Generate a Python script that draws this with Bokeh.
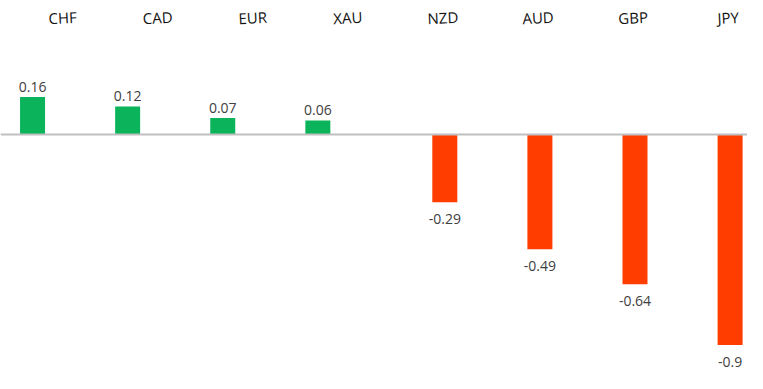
from bokeh.plotting import figure
from bokeh.models import ColumnDataSource, Span, Range1d
from bokeh.core.properties import value
from bokeh.embed import file_html
from bokeh.resources import INLINE

currencies = ["CHF", "CAD", "EUR", "XAU", "NZD", "AUD", "GBP", "JPY"]
changes = [0.16, 0.12, 0.07, 0.06, -0.29, -0.49, -0.64, -0.9]
value_labels = ["0.16", "0.12", "0.07", "0.06", "-0.29", "-0.49", "-0.64", "-0.9"]

GREEN = "#0BB45A"
RED = "#FF3D00"

idx = list(range(len(currencies)))
pos_off = -0.315
neg_off = 0.02
bar_x = [i + (pos_off if v > 0 else neg_off) for i, v in zip(idx, changes)]
colors = [GREEN if v > 0 else RED for v in changes]

bars = ColumnDataSource(dict(x=bar_x, top=changes, color=colors))
pos_src = ColumnDataSource(dict(
    x=[x for x, v in zip(bar_x, changes) if v > 0],
    y=[v for v in changes if v > 0],
    lab=[l for l, v in zip(value_labels, changes) if v > 0]))
neg_src = ColumnDataSource(dict(
    x=[x for x, v in zip(bar_x, changes) if v <= 0],
    y=[v for v in changes if v <= 0],
    lab=[l for l, v in zip(value_labels, changes) if v <= 0]))

W, H = 747, 373
px_per_cat = 95.1
x0 = -62 / px_per_cat
px_per_unit = 234.0
zero_px = 134
y_top = zero_px / px_per_unit
y_bot = -(H - zero_px) / px_per_unit

p = figure(width=W, height=H, output_backend="svg", toolbar_location=None,
           x_range=Range1d(x0, x0 + W / px_per_cat),
           y_range=Range1d(y_bot, y_top),
           min_border=0, min_border_left=0, min_border_right=0,
           min_border_top=0, min_border_bottom=0)
p.axis.visible = False
p.grid.visible = False
p.outline_line_color = None
p.background_fill_color = "white"
p.border_fill_color = "white"

p.vbar(x="x", top="top", bottom=0, width=25 / px_per_cat, color="color",
       line_color=None, source=bars)

p.add_layout(Span(location=0, dimension="width", line_color="#BFBFBF", line_width=2))

p.text(x="x", y="y", text="lab", source=pos_src, text_align="center",
       text_baseline="alphabetic", y_offset=-10, text_font=value("Open Sans"),
       text_font_size="14px", text_color="#404040")
p.text(x="x", y="y", text="lab", source=neg_src, text_align="center",
       text_baseline="alphabetic", y_offset=17, text_font=value("Open Sans"),
       text_font_size="14px", text_color="#404040")

cat_src = ColumnDataSource(dict(x=idx, y=[y_top] * len(idx), lab=currencies))
p.text(x="x", y="y", text="lab", source=cat_src, text_align="center",
       text_baseline="alphabetic", y_offset=17, angle=0.05,
       text_font=value("Open Sans"), text_font_size="15px", text_color="#111111")

open("out.html", "w").write(file_html(p, INLINE))
